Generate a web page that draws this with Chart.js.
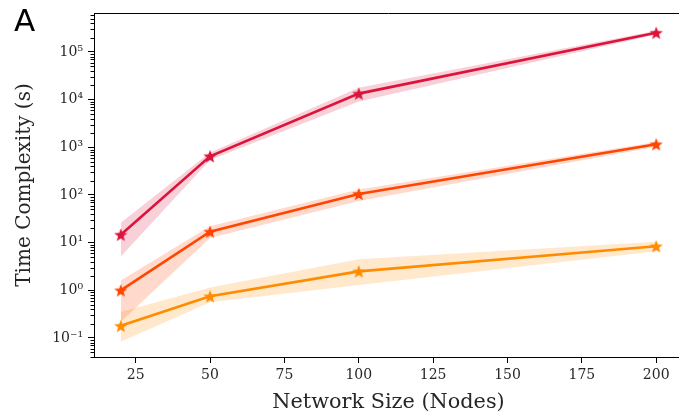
<!DOCTYPE html>
<html>
<head>
<meta charset="utf-8">
<script src="https://cdn.jsdelivr.net/npm/chart.js@4/dist/chart.umd.min.js"></script>
<style>
    html, body { margin: 0; padding: 0; background: #ffffff; overflow: hidden; width: 679px; height: 418px; }
    #wrap { position: relative; width: 684px; height: 418px; }
    #chart { position: absolute; left: 0; top: 0; width: 684px; height: 418px; }
    #panel-label {
        position: absolute; left: 14px; top: 5px;
        font-family: 'DejaVu Sans', sans-serif; font-size: 31px; line-height: 31px; color: #000;
    }
</style>
</head>
<body>
<div id="wrap">
    <canvas id="chart" width="684" height="418"></canvas>
    <div id="panel-label">A</div>
</div>
<script>
// ネットワークサイズ（ノード数）
const networkSizes = [20, 50, 100, 200];

// 各系列の平均値と上下の範囲（秒）
const crimsonMean  = [14.7, 650, 13400, 254000];
const crimsonUpper = [26, 780, 17800, 280000];
const crimsonLower = [5.1, 540, 9100, 232000];

const orangeRedMean  = [1.0, 17, 105, 1160];
const orangeRedUpper = [1.6, 22, 130, 1300];
const orangeRedLower = [0.22, 12.5, 75, 1030];

const orangeMean  = [0.18, 0.75, 2.5, 8.4];
const orangeUpper = [0.35, 1.15, 4.5, 10.5];
const orangeLower = [0.083, 0.56, 1.3, 6.6];

// 目盛り
const xTicks = [25, 50, 75, 100, 125, 150, 175, 200];
const yDecades = [-1, 0, 1, 2, 3, 4, 5];
const yTickLabels = ['10⁻¹', '10⁰', '10¹', '10²', '10³', '10⁴', '10⁵'];

// 軸の範囲
const xMin = 11, xMax = 209;
const yMin = 0.0399, yMax = 658000;

const serif = "'DejaVu Serif', serif";

/**
 * 塗りつぶしの星マーカーを作る
 */
function makeStar(color, size) {
    const c = document.createElement('canvas');
    c.width = size; c.height = size;
    const g = c.getContext('2d');
    const cx = size / 2, cy = size / 2 + size * 0.05;
    const rOut = size / 2, rIn = rOut * 0.42;
    g.beginPath();
    for (let i = 0; i < 10; i++) {
        const r = i % 2 === 0 ? rOut : rIn;
        const a = -Math.PI / 2 + i * Math.PI / 5;
        const px = cx + r * Math.cos(a), py = cy + r * Math.sin(a);
        if (i === 0) g.moveTo(px, py); else g.lineTo(px, py);
    }
    g.closePath();
    g.fillStyle = color;
    g.fill();
    return c;
}

function pts(values) {
    return values.map((v, i) => ({ x: networkSizes[i], y: v }));
}

function lineSet(values, color) {
    return {
        data: pts(values),
        borderColor: color,
        backgroundColor: color,
        borderWidth: 2.6,
        pointStyle: makeStar(color, 14),
        pointRadius: 7,
        fill: false,
        order: 0
    };
}

function bandSet(values, color, fill) {
    return {
        data: pts(values),
        borderWidth: 0,
        borderColor: 'transparent',
        backgroundColor: color,
        pointRadius: 0,
        fill: fill,
        order: 1
    };
}

// 上と右の枠線、y軸の補助目盛り
const framePlugin = {
    id: 'frame',
    afterDraw(chart) {
        const { ctx, chartArea } = chart;
        const y = chart.scales.y;
        ctx.save();
        ctx.strokeStyle = '#000';
        ctx.lineWidth = 1;
        ctx.beginPath();
        ctx.moveTo(chartArea.left, chartArea.top + 0.5);
        ctx.lineTo(chartArea.right, chartArea.top + 0.5);
        ctx.moveTo(chartArea.right - 0.5, chartArea.top);
        ctx.lineTo(chartArea.right - 0.5, chartArea.bottom);
        y.ticks.forEach(t => {
            if (t.major) return;
            const py = Math.round(y.getPixelForValue(t.value)) + 0.5;
            ctx.moveTo(chartArea.left - 3.5, py);
            ctx.lineTo(chartArea.left, py);
        });
        ctx.stroke();
        ctx.restore();
    }
};

new Chart(document.getElementById('chart'), {
    type: 'line',
    data: {
        datasets: [
            lineSet(crimsonMean, '#DC143C'),
            lineSet(orangeRedMean, '#FF4500'),
            lineSet(orangeMean, '#FF8C00'),
            bandSet(crimsonUpper, 'rgba(220, 20, 60, 0.2)', '+1'),
            bandSet(crimsonLower, 'rgba(220, 20, 60, 0.2)', false),
            bandSet(orangeRedUpper, 'rgba(255, 69, 0, 0.2)', '+1'),
            bandSet(orangeRedLower, 'rgba(255, 69, 0, 0.2)', false),
            bandSet(orangeUpper, 'rgba(255, 140, 0, 0.2)', '+1'),
            bandSet(orangeLower, 'rgba(255, 140, 0, 0.2)', false)
        ]
    },
    options: {
        responsive: false,
        maintainAspectRatio: false,
        animation: false,
        layout: { autoPadding: false, padding: { left: 0, top: 13, right: 1, bottom: 0 } },
        plugins: {
            legend: { display: false },
            tooltip: { enabled: false }
        },
        scales: {
            x: {
                type: 'linear',
                min: xMin,
                max: xMax,
                afterBuildTicks: scale => {
                    scale.ticks = xTicks.map(v => ({ value: v }));
                },
                afterFit: scale => {
                    scale.height = 61;
                    scale.paddingLeft = 0;
                    scale.paddingRight = 0;
                },
                grid: {
                    drawOnChartArea: false,
                    tickLength: 6,
                    tickColor: '#000',
                    tickWidth: 1
                },
                border: { display: true, color: '#000', width: 1 },
                ticks: {
                    color: '#262626',
                    font: { family: serif, size: 14 },
                    padding: 4,
                    maxRotation: 0,
                    autoSkip: false
                },
                title: {
                    display: true,
                    text: 'Network Size (Nodes)',
                    color: '#262626',
                    font: { family: serif, size: 20.8 },
                    padding: { top: 4, bottom: 3 }
                }
            },
            y: {
                type: 'logarithmic',
                min: yMin,
                max: yMax,
                afterBuildTicks: scale => {
                    const ticks = [];
                    yDecades.concat([-2, 6]).sort((a, b) => a - b).forEach(d => {
                        for (let m = 1; m <= 9; m++) {
                            const v = m * Math.pow(10, d);
                            if (v >= yMin && v <= yMax) ticks.push({ value: v, major: m === 1 });
                        }
                    });
                    scale.ticks = ticks;
                },
                afterFit: scale => {
                    scale.width = 94;
                    scale.paddingTop = 0;
                    scale.paddingBottom = 0;
                },
                grid: {
                    drawOnChartArea: false,
                    tickLength: 6,
                    tickWidth: 1,
                    tickColor: c => (c.tick && c.tick.major ? '#000' : 'rgba(0,0,0,0)')
                },
                border: { display: true, color: '#000', width: 1 },
                ticks: {
                    color: '#262626',
                    font: { family: serif, size: 14 },
                    padding: 5,
                    autoSkip: false,
                    callback: function(value) {
                        const d = Math.round(Math.log10(value));
                        const idx = yDecades.indexOf(d);
                        if (Math.abs(value - Math.pow(10, d)) > 1e-9 * Math.pow(10, d) || idx < 0) return '';
                        return yTickLabels[idx];
                    }
                },
                title: {
                    display: true,
                    text: 'Time Complexity (s)',
                    color: '#262626',
                    font: { family: serif, size: 20 },
                    padding: { top: 13, bottom: 0 }
                }
            }
        }
    },
    plugins: [framePlugin]
});
</script>
</body>
</html>
